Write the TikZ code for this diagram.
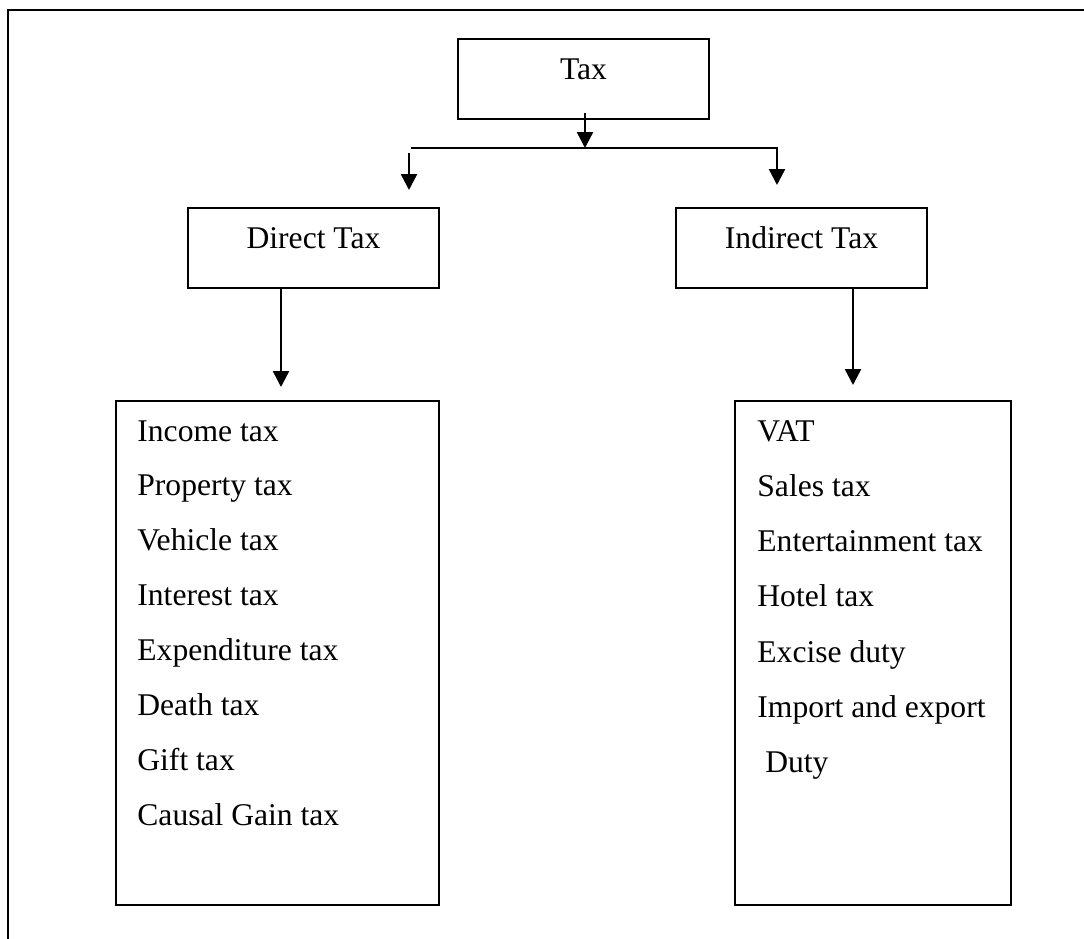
\documentclass[tikz,border=0pt]{standalone}
\usepackage{fontspec}
\setmainfont{Liberation Serif}
\usetikzlibrary{arrows.meta}
\newcommand{\boxfont}{\fontsize{15.8}{19}\selectfont}
\tikzset{
  head/.style={rectangle,draw=black,line width=0.7pt,minimum width=125.5pt,
    inner sep=0pt,text height=20pt,text depth=20pt,font=\boxfont},
  listbox/.style={rectangle,draw=black,line width=0.7pt,minimum height=252pt,inner sep=0pt},
  entry/.style={anchor=base west,inner sep=0pt,font=\boxfont},
  arrow/.style={-{Triangle[width=8pt,length=8pt]},line width=1.2pt},
  link/.style={line width=0.6pt}
}
\begin{document}
\begin{tikzpicture}[x=0.5pt,y=-0.5pt]
\useasboundingbox (0,0) rectangle (1084,939);
% frame
\draw[line width=1pt] (8,939) -- (8,10) -- (1084,10);
% heads
\node[head] (tax) at (583.5,79) {Tax};
\node[head] (dtax) at (313.5,248) {Direct Tax};
\node[head] (itax) at (801.5,248) {Indirect Tax};
% lists
\node[listbox,minimum width=161.5pt] (dlist) at (277.5,653) {};
\node[listbox,minimum width=138pt] (ilist) at (873,653) {};
\foreach \name/\txt [count=\i from 0] in {income/Income tax,property/Property tax,
  vehicle/Vehicle tax,interest/Interest tax,expenditure/Expenditure tax,
  death/Death tax,gift/Gift tax,causal/Causal Gain tax}
  \node[entry] (\name) at (137,{441+54.86*\i}) {\txt};
\foreach \name/\txt [count=\i from 0] in {vat/VAT,sales/Sales tax,
  entertain/Entertainment tax,hotel/Hotel tax,excise/Excise duty,
  import/Import and export,duty/\ Duty}
  \node[entry] (\name) at (757,{441+55.3*\i}) {\txt};
% connectors
\coordinate (split) at (585,148);
\coordinate (bl) at (411,148);
\coordinate (br) at (778,148);
\coordinate (lt) at (409,153);
\coordinate (lb) at (409,190);
\coordinate (rt) at (777,148);
\coordinate (rb) at (777,185);
\coordinate (dend) at (281,387);
\coordinate (iend) at (853,385);
\draw[arrow] ([yshift=3.5pt]tax.south -| split) -- (split);
\draw[link] (bl) -- (br);
\draw[arrow] (lt) -- (lb);
\draw[arrow] (rt) -- (rb);
\draw[arrow] (dtax.south -| dend) -- (dend);
\draw[arrow] ([yshift=1pt]itax.south -| iend) -- (iend);
\end{tikzpicture}
\end{document}
